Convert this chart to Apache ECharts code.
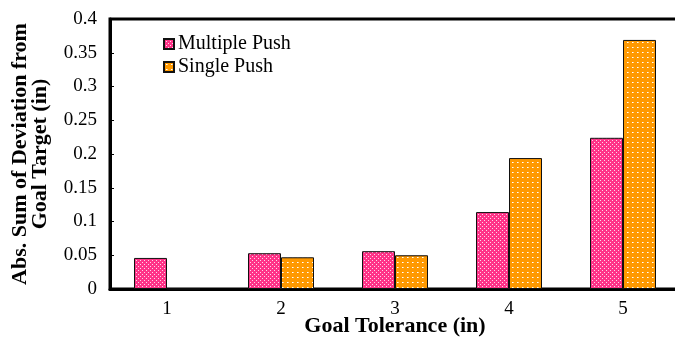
<!DOCTYPE html>
<html><head><meta charset="utf-8">
<script src="https://cdn.jsdelivr.net/npm/echarts@6/dist/echarts.min.js"></script>
<style>html,body{margin:0;padding:0;background:#fff}#c{width:675px;height:337px}</style>
</head><body><div id="c"></div>
<script>
const categories = ['1','2','3','4','5'];
const multiplePush = [0.046, 0.053, 0.056, 0.114, 0.224];
const singlePush = [0, 0.047, 0.050, 0.194, 0.369];
const yTicks = ['0','0.05','0.1','0.15','0.2','0.25','0.3','0.35','0.4'];

function pinkPattern(){
  const c=document.createElement('canvas');c.width=4;c.height=4;
  const g=c.getContext('2d');
  g.fillStyle='#ff3388';g.fillRect(0,0,4,4);
  g.fillStyle='#ffd6e8';
  g.fillRect(0,0,1,1);g.fillRect(2,2,1,1);
  return c;
}
function orangePattern(){
  const c=document.createElement('canvas');c.width=5;c.height=5;
  const g=c.getContext('2d');
  g.fillStyle='#ff9900';g.fillRect(0,0,5,5);
  g.fillStyle='#ffffff';g.fillRect(2,2,1,1);
  g.fillStyle='#ffd590';g.fillRect(3,2,1,1);
  return c;
}
const serif='"Liberation Serif", "DejaVu Serif", serif';
const chart=echarts.init(document.getElementById('c'));
chart.setOption({
  animation:false,
  grid:{left:110,right:-5,top:19,bottom:48,show:true,borderColor:'#000',borderWidth:3,containLabel:false,outerBoundsMode:'none'},
  legend:{
    left:158,top:29,orient:'vertical',itemGap:3,itemWidth:10,itemHeight:10,
    icon:'rect',
    textStyle:{fontFamily:serif,fontSize:20,color:'#000',padding:[0,0,0,-1]},
    data:['Multiple Push','Single Push']
  },
  xAxis:{
    type:'category',data:categories,
    name:'Goal Tolerance (in)',nameLocation:'middle',nameGap:26,nameMoveOverlap:false,
    nameTextStyle:{fontFamily:serif,fontSize:22,fontWeight:'bold',color:'#000'},
    axisLine:{lineStyle:{color:'#000',width:3}},
    axisTick:{inside:true,length:4,lineStyle:{color:'#000',width:1.5}},
    axisLabel:{fontFamily:serif,fontSize:19,color:'#000',margin:11}
  },
  yAxis:{
    type:'value',min:0,max:0.4,interval:0.05,
    name:'Abs. Sum of Deviation from\nGoal Target (in)',nameLocation:'middle',nameGap:60,nameMoveOverlap:false,
    nameTextStyle:{fontFamily:serif,fontSize:22,fontWeight:'bold',color:'#000',lineHeight:20},
    axisLine:{show:true,lineStyle:{color:'#000',width:3}},
    axisTick:{show:true,inside:true,length:4,lineStyle:{color:'#000'}},
    splitLine:{show:false},
    axisLabel:{fontFamily:serif,fontSize:19,color:'#000',margin:13,
      formatter:(v)=>{const i=Math.round(v/0.05);return yTicks[i]!==undefined?yTicks[i]:String(v);}}
  },
  series:[
    {name:'Multiple Push',type:'bar',data:multiplePush,barWidth:33,barGap:'0%',
     itemStyle:{color:{image:pinkPattern(),repeat:'repeat'},borderColor:'#111',borderWidth:1}},
    {name:'Single Push',type:'bar',data:singlePush,barWidth:33,barGap:'0%',
     itemStyle:{color:{image:orangePattern(),repeat:'repeat'},borderColor:'#111',borderWidth:1}}
  ]
});
</script></body></html>
